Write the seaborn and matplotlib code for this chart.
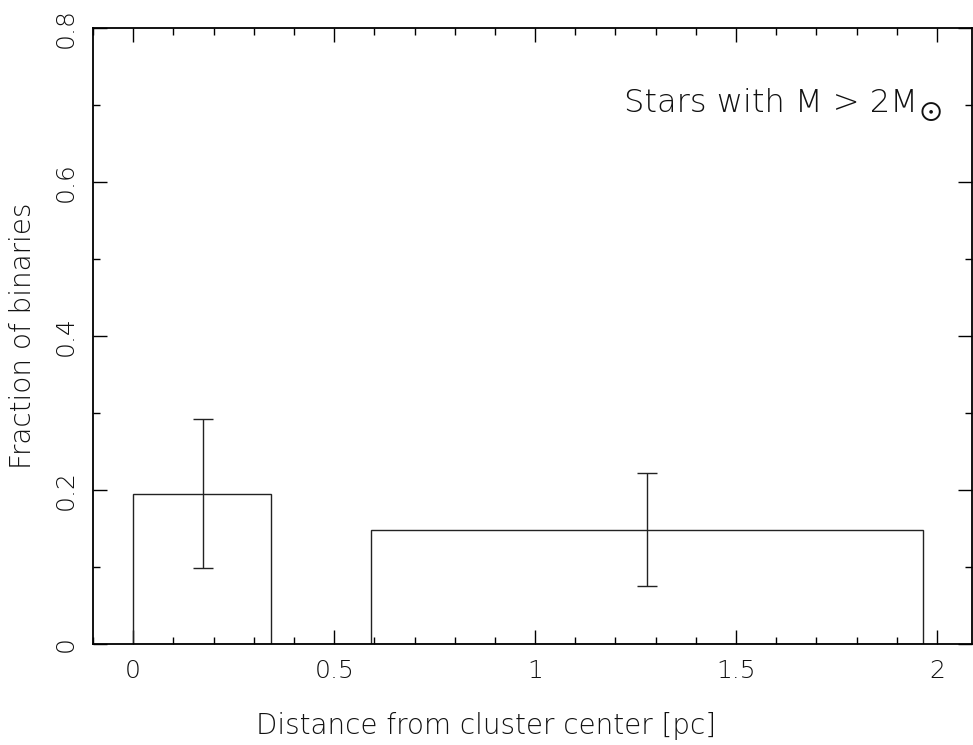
import numpy as np
import pandas as pd
import matplotlib
matplotlib.use("Agg")
import matplotlib.pyplot as plt
from matplotlib.ticker import MultipleLocator
import seaborn as sns

# bins of distance from the cluster center [pc]
bin_left = [0.0, 0.591]
bin_right = [0.342, 1.964]
fraction = [0.195, 0.148]

# error bars
err_x = [0.173, 1.278]
err_lo = [0.099, 0.075]
err_hi = [0.292, 0.222]

sns.set_style("ticks")
plt.rcParams['font.family'] = ['DejaVu Sans']
plt.rcParams['font.weight'] = 'light'
plt.rcParams['text.color'] = '#111111'
plt.rcParams['axes.labelcolor'] = '#111111'
plt.rcParams['xtick.labelcolor'] = '#111111'
plt.rcParams['ytick.labelcolor'] = '#111111'

# contiguous bin edges, gap bins get weight 0
edges = [bin_left[0]]
centers, weights = [], []
for i in range(len(bin_left)):
    if bin_left[i] > edges[-1]:
        centers.append((edges[-1] + bin_left[i]) / 2)
        weights.append(0.0)
        edges.append(bin_left[i])
    centers.append((bin_left[i] + bin_right[i]) / 2)
    weights.append(fraction[i])
    edges.append(bin_right[i])
df = pd.DataFrame({'r': centers, 'w': weights})

fig = plt.figure(figsize=(9.73, 7.45), dpi=100)
ax = fig.add_axes([93 / 973, 101 / 745, 879 / 973, 616 / 745])

sns.histplot(data=df, x='r', weights='w', bins=edges, fill=False,
             color='#222222', linewidth=1.0, ax=ax)

yerr = [np.array(fraction) - np.array(err_lo), np.array(err_hi) - np.array(fraction)]
ax.errorbar(err_x, fraction, yerr=yerr, fmt='none', ecolor='#222222',
            elinewidth=1.0, capsize=7.5, capthick=1.0)

ax.set_xlim(-0.1, 2.087)
ax.set_ylim(0, 0.8)
ax.xaxis.set_minor_locator(MultipleLocator(0.1))
ax.yaxis.set_minor_locator(MultipleLocator(0.1))
ax.set_xticks([0, 0.5, 1, 1.5, 2])
ax.set_xticklabels(['0', '0.5', '1', '1.5', '2'], fontweight='light')
ax.set_yticks([0, 0.2, 0.4, 0.6, 0.8])
ax.set_yticklabels(['0', '0.2', '0.4', '0.6', '0.8'], rotation=90, va='center',
                   fontweight='light')

ax.tick_params(which='both', direction='in', top=True, right=True,
               labelsize=18, color='black', width=1.0)
ax.tick_params(which='major', length=10, pad=11)
ax.tick_params(which='minor', length=5)
for s in ax.spines.values():
    s.set_linewidth(1.3)
    s.set_color('black')

ax.set_xlabel('Distance from cluster center [pc]', fontsize=20,
              fontweight='light')
ax.xaxis.set_label_coords(0.4477, -0.1104)
ax.set_ylabel('Fraction of binaries', fontsize=20, fontweight='light',
              labelpad=12)
ax.text(0.9386, 0.8636, 'Stars with M > 2M', transform=ax.transAxes,
        ha='right', va='baseline', fontsize=23, fontweight='light')
ax.text(0.9522, 0.8645, r'$\odot$', transform=ax.transAxes,
        ha='center', va='center', fontsize=21)

fig.savefig('out.png', dpi=100)
